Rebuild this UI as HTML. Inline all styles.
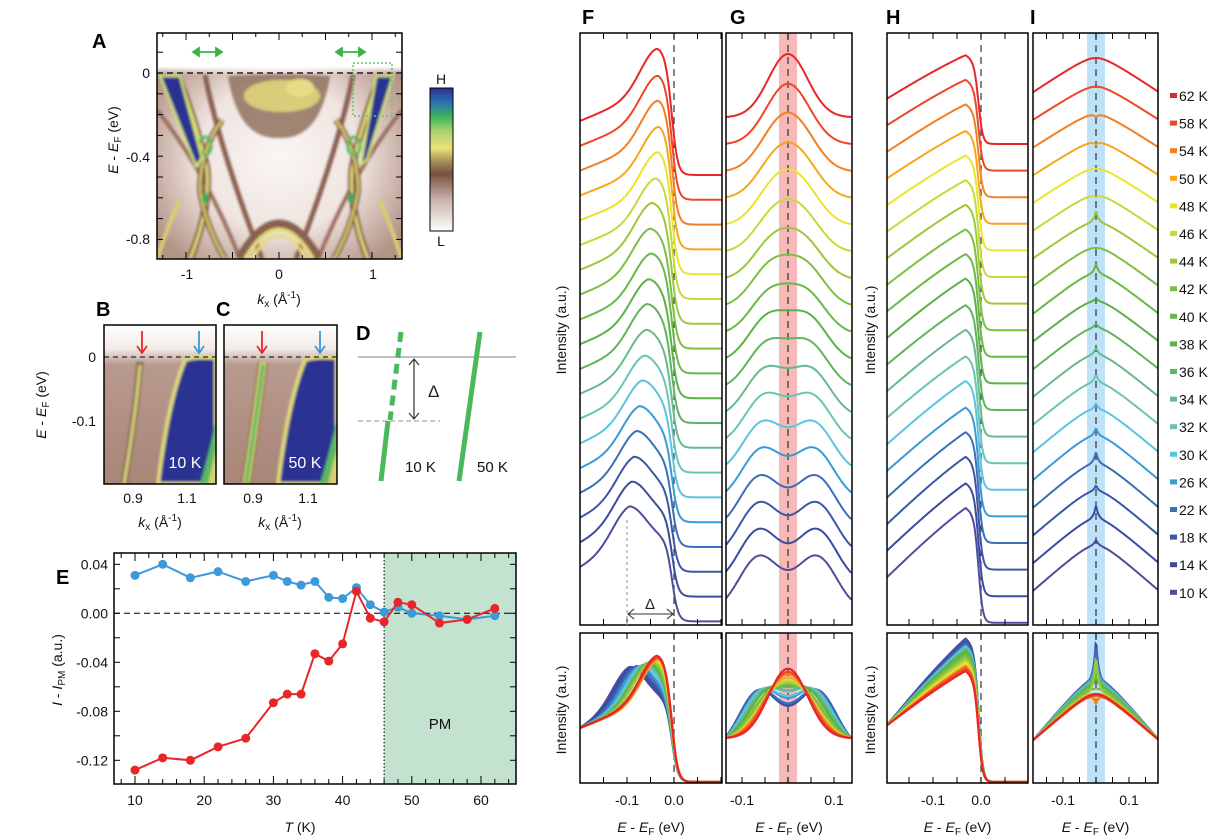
<!DOCTYPE html>
<html><head><meta charset="utf-8">
<style>
html,body{margin:0;padding:0;background:#fff;}
svg{display:block;font-family:"Liberation Sans",sans-serif;}
.tk{font-size:14px;fill:#111;}
.lbl{font-size:20px;font-weight:bold;fill:#000;}
.ax{font-size:14px;fill:#111;}
</style></head>
<body>
<svg id="fig" width="1226" height="840" viewBox="0 0 1226 840" xmlns="http://www.w3.org/2000/svg">
<defs>
  <clipPath id="clipA"><rect x="157" y="33" width="245" height="226"/></clipPath>
  <clipPath id="clipB"><rect x="104" y="325" width="112" height="159"/></clipPath>
  <clipPath id="clipC"><rect x="224" y="325" width="113" height="159"/></clipPath>
  <clipPath id="clipF"><rect x="580" y="33" width="142" height="592"/></clipPath>
  <clipPath id="clipG"><rect x="726" y="33" width="126" height="592"/></clipPath>
  <clipPath id="clipH"><rect x="887" y="33" width="141" height="592"/></clipPath>
  <clipPath id="clipI"><rect x="1033" y="33" width="125" height="592"/></clipPath>
  <clipPath id="clipFb"><rect x="580" y="633" width="142" height="150"/></clipPath>
  <clipPath id="clipGb"><rect x="726" y="633" width="126" height="150"/></clipPath>
  <clipPath id="clipHb"><rect x="887" y="633" width="141" height="150"/></clipPath>
  <clipPath id="clipIb"><rect x="1033" y="633" width="125" height="150"/></clipPath>
  <linearGradient id="cbar" x1="0" y1="0" x2="0" y2="1">
    <stop offset="0" stop-color="#2b3090"/><stop offset="0.1" stop-color="#2a6fb5"/>
    <stop offset="0.2" stop-color="#3cb45a"/><stop offset="0.3" stop-color="#a8d070"/>
    <stop offset="0.42" stop-color="#ece27a"/><stop offset="0.52" stop-color="#a08a55"/>
    <stop offset="0.6" stop-color="#7a5040"/><stop offset="0.78" stop-color="#c8b2aa"/>
    <stop offset="1" stop-color="#ffffff"/>
  </linearGradient>
  <radialGradient id="bgA" cx="0.5" cy="0.55" r="0.6">
    <stop offset="0" stop-color="#faf6f5"/><stop offset="0.55" stop-color="#efe4e0"/>
    <stop offset="1" stop-color="#b39386"/>
  </radialGradient>
  <linearGradient id="topfade" x1="0" y1="0" x2="0" y2="1">
    <stop offset="0" stop-color="#fff"/><stop offset="0.8" stop-color="#fff"/><stop offset="1" stop-color="#fff" stop-opacity="0"/>
  </linearGradient>
  <linearGradient id="bgB" x1="0" y1="0" x2="0" y2="1">
    <stop offset="0" stop-color="#fff"/><stop offset="0.15" stop-color="#f3ebe8"/><stop offset="0.25" stop-color="#b89a8e"/><stop offset="1" stop-color="#a88678"/>
  </linearGradient>
  <filter id="blur1"><feGaussianBlur stdDeviation="1.2"/></filter>
</defs>

<g>
  <text class="lbl" x="92" y="48">A</text>
  <g clip-path="url(#clipA)">
    <rect x="157" y="33" width="245" height="226" fill="url(#bgA)"/>
    <rect x="157" y="33" width="245" height="42" fill="url(#topfade)"/>
    <g filter="url(#blur1)">
      <path d="M205,75 Q220,150 262,259" stroke="#8a6050" stroke-width="5" fill="none"/>
      <path d="M353,75 Q338,150 296,259" stroke="#8a6050" stroke-width="5" fill="none"/>
      <path d="M157,110 Q205,170 240,259" stroke="#9a7060" stroke-width="4" fill="none"/>
      <path d="M402,110 Q354,170 318,259" stroke="#9a7060" stroke-width="4" fill="none"/>
      <path d="M228,76 Q278,72 330,76 Q320,140 279,138 Q238,140 228,76 Z" fill="#8c6a55" opacity="0.8"/>
      <ellipse cx="282" cy="96" rx="38" ry="16" fill="#d8cd78"/>
      <ellipse cx="300" cy="88" rx="14" ry="9" fill="#e6dc86"/>
      <path d="M240,259 Q279,190 318,259" stroke="#8a6050" stroke-width="10" fill="none"/>
      <path d="M245,259 Q279,200 313,259" stroke="#e4dc7c" stroke-width="4" fill="none"/>
      <path d="M252,259 Q279,212 306,259" stroke="#e4dc7c" stroke-width="3" fill="none"/>
      <path d="M178,76 Q200,135 207,170 Q210,210 190,259" stroke="#7a5040" stroke-width="7" fill="none"/>
      <path d="M178,76 Q200,135 207,170 Q210,210 190,259" stroke="#e2db78" stroke-width="3" fill="none"/>
      <path d="M222,120 Q200,150 200,190 Q205,225 225,259" stroke="#7a5040" stroke-width="6" fill="none"/>
      <path d="M222,120 Q200,150 200,190 Q205,225 225,259" stroke="#d6d070" stroke-width="2.5" fill="none"/>
      <path d="M380,76 Q358,135 352,170 Q349,210 368,259" stroke="#7a5040" stroke-width="7" fill="none"/>
      <path d="M380,76 Q358,135 352,170 Q349,210 368,259" stroke="#e2db78" stroke-width="3" fill="none"/>
      <path d="M336,120 Q358,150 358,190 Q353,225 334,259" stroke="#7a5040" stroke-width="6" fill="none"/>
      <path d="M336,120 Q358,150 358,190 Q353,225 334,259" stroke="#d6d070" stroke-width="2.5" fill="none"/>
      <ellipse cx="205" cy="146" rx="6" ry="9" fill="none" stroke="#58b860" stroke-width="3"/>
      <ellipse cx="354" cy="146" rx="6" ry="9" fill="none" stroke="#58b860" stroke-width="3"/>
      <ellipse cx="205" cy="198" rx="3" ry="6" fill="#40a860"/>
      <ellipse cx="351" cy="198" rx="3" ry="6" fill="#40a860"/>
      <path d="M157,259 Q170,220 180,200" stroke="#d8d070" stroke-width="4" fill="none"/>
      <path d="M402,259 Q389,220 379,200" stroke="#d8d070" stroke-width="4" fill="none"/>
      <path d="M160,76 L180,76 L202,158 L196,166 Z" fill="#2b3292" stroke="#cfe070" stroke-width="2.5"/>
      <path d="M376,76 L393,76 L367,160 L361,164 Z" fill="#2b3292" stroke="#cfe070" stroke-width="2.5"/>
    </g>
  </g>
  <rect x="157" y="33" width="245" height="226" fill="none" stroke="#000" stroke-width="1.5"/>
  <line x1="157" y1="73" x2="402" y2="73" stroke="#000" stroke-width="1.2" stroke-dasharray="6,4"/>
  <g id="ticksA"></g>
  <text class="tk" x="150" y="78" text-anchor="end">0</text>
  <text class="tk" x="150" y="162" text-anchor="end">-0.4</text>
  <text class="tk" x="150" y="244" text-anchor="end">-0.8</text>
  <text class="tk" x="187" y="279" text-anchor="middle">-1</text>
  <text class="tk" x="279" y="279" text-anchor="middle">0</text>
  <text class="tk" x="373" y="279" text-anchor="middle">1</text>
  <text class="ax" x="279" y="304" text-anchor="middle"><tspan font-style="italic">k</tspan><tspan font-size="10" dy="3">x</tspan><tspan dy="-3"> (Å</tspan><tspan font-size="10" dy="-6">-1</tspan><tspan dy="6">)</tspan></text>
  <text class="ax" transform="translate(118,140) rotate(-90)" text-anchor="middle"><tspan font-style="italic">E</tspan> - <tspan font-style="italic">E</tspan><tspan font-size="10" dy="3">F</tspan><tspan dy="-3"> (eV)</tspan></text>
  <g stroke="#3bb24a" stroke-width="1.8" fill="#3bb24a">
    <line x1="197" y1="52" x2="218" y2="52"/><path d="M193,52 l6,-4 v8 z"/><path d="M222,52 l-6,-4 v8 z"/>
    <line x1="340" y1="52" x2="361" y2="52"/><path d="M336,52 l6,-4 v8 z"/><path d="M365,52 l-6,-4 v8 z"/>
  </g>
  <rect x="353" y="63" width="39" height="53" fill="none" stroke="#6cc070" stroke-width="1.5" stroke-dasharray="2,2"/>
  <rect x="430" y="88" width="23" height="143" fill="url(#cbar)" stroke="#000" stroke-width="1"/>
  <text class="tk" x="441" y="84" text-anchor="middle" font-size="15">H</text>
  <text class="tk" x="441" y="246" text-anchor="middle" font-size="15">L</text>
</g>

<g>
  <text class="lbl" x="96" y="316">B</text>
  <g clip-path="url(#clipB)">
    <rect x="104" y="325" width="112" height="159" fill="url(#bgB)"/>
    <g filter="url(#blur1)">
      <path d="M140,362 Q135,420 124,484" stroke="#8a6a50" stroke-width="7" fill="none"/>
      <path d="M140,365 Q135,420 124,484" stroke="#d6d67a" stroke-width="3" fill="none"/>
      <path d="M185,360 Q195,356 216,358 L216,484 L158,484 Q168,400 185,360 Z" fill="#2b3292" stroke="#e0da78" stroke-width="4"/>
      <path d="M200,484 Q210,450 216,420 L216,484 Z" fill="#5ab860"/>
      <path d="M208,484 Q213,462 216,450 L216,484 Z" fill="#d8d070"/>
    </g>
  </g>
  <rect x="104" y="325" width="112" height="159" fill="none" stroke="#000" stroke-width="1.5"/>
  <line x1="104" y1="357" x2="216" y2="357" stroke="#000" stroke-dasharray="5,4"/>
  <text x="185" y="468" fill="#fff" font-size="16" text-anchor="middle">10 K</text>
  <g stroke="#e8262a" stroke-width="1.8" fill="none"><line x1="142" y1="331" x2="142" y2="352"/><path d="M137,346 L142,353 L147,346"/></g>
  <g stroke="#3a9ad6" stroke-width="1.8" fill="none"><line x1="199" y1="331" x2="199" y2="352"/><path d="M194,346 L199,353 L204,346"/></g>
  <text class="tk" x="96" y="362" text-anchor="end">0</text>
  <text class="tk" x="96" y="426" text-anchor="end">-0.1</text>
  <text class="tk" x="133" y="503" text-anchor="middle">0.9</text>
  <text class="tk" x="187" y="503" text-anchor="middle">1.1</text>
  <text class="ax" x="160" y="527" text-anchor="middle"><tspan font-style="italic">k</tspan><tspan font-size="10" dy="3">x</tspan><tspan dy="-3"> (Å</tspan><tspan font-size="10" dy="-6">-1</tspan><tspan dy="6">)</tspan></text>
  <text class="ax" transform="translate(46,405) rotate(-90)" text-anchor="middle"><tspan font-style="italic">E</tspan> - <tspan font-style="italic">E</tspan><tspan font-size="10" dy="3">F</tspan><tspan dy="-3"> (eV)</tspan></text>
</g>
<g>
  <text class="lbl" x="216" y="316">C</text>
  <g clip-path="url(#clipC)">
    <rect x="224" y="325" width="113" height="159" fill="url(#bgB)"/>
    <g filter="url(#blur1)">
      <path d="M263,362 Q256,420 246,484" stroke="#8a6a50" stroke-width="10" fill="none"/>
      <path d="M263,362 Q256,420 246,484" stroke="#d8d674" stroke-width="7" fill="none"/>
      <path d="M263,364 Q256,420 246,484" stroke="#58b860" stroke-width="3.5" fill="none"/>
      <path d="M305,360 Q315,356 337,358 L337,484 L278,484 Q288,400 305,360 Z" fill="#2b3292" stroke="#e0da78" stroke-width="4"/>
      <path d="M320,484 Q330,450 337,420 L337,484 Z" fill="#5ab860"/>
      <path d="M328,484 Q333,462 337,450 L337,484 Z" fill="#d8d070"/>
    </g>
  </g>
  <rect x="224" y="325" width="113" height="159" fill="none" stroke="#000" stroke-width="1.5"/>
  <line x1="224" y1="357" x2="337" y2="357" stroke="#000" stroke-dasharray="5,4"/>
  <text x="305" y="468" fill="#fff" font-size="16" text-anchor="middle">50 K</text>
  <g stroke="#e8262a" stroke-width="1.8" fill="none"><line x1="262" y1="331" x2="262" y2="352"/><path d="M257,346 L262,353 L267,346"/></g>
  <g stroke="#3a9ad6" stroke-width="1.8" fill="none"><line x1="320" y1="331" x2="320" y2="352"/><path d="M315,346 L320,353 L325,346"/></g>
  <text class="tk" x="253" y="503" text-anchor="middle">0.9</text>
  <text class="tk" x="308" y="503" text-anchor="middle">1.1</text>
  <text class="ax" x="280" y="527" text-anchor="middle"><tspan font-style="italic">k</tspan><tspan font-size="10" dy="3">x</tspan><tspan dy="-3"> (Å</tspan><tspan font-size="10" dy="-6">-1</tspan><tspan dy="6">)</tspan></text>
</g>

<g>
  <text class="lbl" x="356" y="340">D</text>
  <line x1="358" y1="357" x2="516" y2="357" stroke="#999" stroke-width="1.2"/>
  <line x1="358" y1="421" x2="440" y2="421" stroke="#aaa" stroke-width="1.2" stroke-dasharray="5,3"/>
  <g stroke="#333" stroke-width="1.2" fill="none"><line x1="414" y1="359" x2="414" y2="419"/><path d="M409,365 L414,359 L419,365"/><path d="M409,413 L414,419 L419,413"/></g>
  <text x="428" y="397" font-size="17" fill="#222">Δ</text>
  <line x1="401" y1="332" x2="390" y2="420" stroke="#4cb85c" stroke-width="5" stroke-dasharray="10,6"/>
  <line x1="388" y1="421" x2="381" y2="481" stroke="#4cb85c" stroke-width="5"/>
  <line x1="480" y1="332" x2="459" y2="481" stroke="#4cb85c" stroke-width="5"/>
  <text x="405" y="472" font-size="15" fill="#111">10 K</text>
  <text x="477" y="472" font-size="15" fill="#111">50 K</text>
</g>

<g>
  <text class="lbl" x="56" y="584">E</text>
  <rect id="pmRegion" x="384" y="553" width="132" height="231" fill="#c3e3d0"/>
  <g id="eTicks"></g>
  <g id="eLabels"></g>
  <line id="zeroLineE" x1="114" x2="516" y1="613" y2="613" stroke="#000" stroke-width="1" stroke-dasharray="6,4"/>
  <line id="tnLine" x1="384" x2="384" y1="553" y2="784" stroke="#333" stroke-width="1.3" stroke-dasharray="1.5,2"/>
  <g id="eSeries"></g>
  <rect x="114" y="553" width="402" height="231" fill="none" stroke="#000" stroke-width="1.5"/>
  <text x="440" y="729" font-size="15" fill="#111" text-anchor="middle">PM</text>
  <text class="ax" x="300" y="832" text-anchor="middle"><tspan font-style="italic">T</tspan> (K)</text>
  <text class="ax" transform="translate(62,670) rotate(-90)" text-anchor="middle"><tspan font-style="italic">I</tspan> - <tspan font-style="italic">I</tspan><tspan font-size="10" dy="3">PM</tspan><tspan dy="-3"> (a.u.)</tspan></text>
</g>

<g id="edcs"></g>
<text class="lbl" x="582" y="24">F</text>
<text class="lbl" x="730" y="24">G</text>
<text class="lbl" x="886" y="24">H</text>
<text class="lbl" x="1030" y="24">I</text>
<text class="ax" transform="translate(566,330) rotate(-90)" text-anchor="middle">Intensity (a.u.)</text>
<text class="ax" transform="translate(875,330) rotate(-90)" text-anchor="middle">Intensity (a.u.)</text>
<text class="ax" transform="translate(566,710) rotate(-90)" text-anchor="middle">Intensity (a.u.)</text>
<text class="ax" transform="translate(875,710) rotate(-90)" text-anchor="middle">Intensity (a.u.)</text>
<g id="legend"></g>
</svg>

<script>
// ---------- Panel E data ----------
const eTemps = [10,14,18,22,26,30,32,34,36,38,40,42,44,46,48,50,54,58,62];
const eBlue = [0.031,0.040,0.029,0.034,0.026,0.031,0.026,0.023,0.026,0.013,0.012,0.021,0.007,0.001,0.005,0.000,-0.002,-0.005,-0.002];
const eRed  = [-0.128,-0.118,-0.120,-0.109,-0.102,-0.073,-0.066,-0.066,-0.033,-0.039,-0.025,0.018,-0.004,-0.007,0.009,0.007,-0.008,-0.005,0.004];
const eXTicks = [10,20,30,40,50,60];
const eYTicks = [0.04,0.00,-0.04,-0.08,-0.12];
const eYTickLabels = ["0.04","0.00","-0.04","-0.08","-0.12"];
const eTn = 46;

// ---------- EDC data (temperature order top to bottom) ----------
const temps = [62,58,54,50,48,46,44,42,40,38,36,34,32,30,26,22,18,14,10];
const fPeakE = [-0.036,-0.035,-0.034,-0.032,-0.035,-0.040,-0.048,-0.052,-0.050,-0.055,-0.058,-0.060,-0.064,-0.068,-0.074,-0.080,-0.085,-0.090,-0.095];
const fPeakH = [74,72,72,71,70,68,68,67,67,66,66,65,64,64,63,63,62,62,62];
const gGapE = [0.000,0.018,0.025,0.028,0.030,0.032,0.036,0.040,0.042,0.046,0.048,0.052,0.054,0.058,0.060,0.064,0.065,0.066,0.066];
const gPeakH = [63,60,58,55,55,52,50,50,48,48,47,46,46,45,45,44,44,44,44];
const hRise = [44,46,48,48,50,52,54,56,58,60,60,62,62,64,64,66,68,68,70];
const iBroad = [34,33,33,33,34,35,36,38,40,40,41,42,42,43,44,44,44,44,45];
const iSpike = [0,0,-3,-3,0,-2,12,0,10,3,5,7,8,6,8,12,6,14,6];

const palette = ["#e8262a","#ee4626","#f27f22","#f6a81d","#ece32c","#c6d93a","#9cc83b","#7dbf42","#6ab845","#5cb247","#5fb55e","#66bb8c","#6ac4b6","#5ac4e0","#3a9ad6","#3b6fb8","#3a57a8","#3b4ba0","#4d4da0"];

const NS = "http://www.w3.org/2000/svg";
function mk(tag, attrs){const e=document.createElementNS(NS,tag);for(const k in attrs)e.setAttribute(k,attrs[k]);return e;}

(function(){
  const g=document.getElementById('ticksA');
  const kx=k=>279+k*93, ey=e=>73-e*208;
  for(let k=-1.25;k<=1.26;k+=0.25){const x=kx(k);const big=Math.abs(k*2-Math.round(k*2))<1e-6;
    g.appendChild(mk('line',{x1:x,y1:259,x2:x,y2:259-(big?7:4),stroke:'#000'}));
    g.appendChild(mk('line',{x1:x,y1:33,x2:x,y2:33+(big?7:4),stroke:'#000'}));}
  for(let e=0.2;e>=-0.85;e-=0.1){const y=ey(e);if(y<33||y>259)continue;
    g.appendChild(mk('line',{x1:157,y1:y,x2:163,y2:y,stroke:'#000'}));
    g.appendChild(mk('line',{x1:402,y1:y,x2:396,y2:y,stroke:'#000'}));}
  const gb=[[104,216,133,187],[224,337,253,308]];
  gb.forEach(b=>{for(let k=0.8;k<=1.21;k+=0.05){const x=b[2]+(k-0.9)*(b[3]-b[2])/0.2;if(x<b[0]||x>b[1])continue;
    const big=Math.abs(k*10-Math.round(k*10))<1e-6;
    g.appendChild(mk('line',{x1:x,y1:484,x2:x,y2:484-(big?6:3),stroke:'#000'}));
    g.appendChild(mk('line',{x1:x,y1:325,x2:x,y2:325+(big?6:3),stroke:'#000'}));}
    for(let e=0.04;e>=-0.2;e-=0.025){const y=357-e*640;if(y<325||y>484)continue;
    g.appendChild(mk('line',{x1:b[0],y1:y,x2:b[0]+5,y2:y,stroke:'#000'}));
    g.appendChild(mk('line',{x1:b[1],y1:y,x2:b[1]-5,y2:y,stroke:'#000'}));}});
})();

const xE = t => 135 + (t-10)*6.92;
const yE = v => 613.3 - v*1225;
(function(){
  const pm=document.getElementById('pmRegion');
  pm.setAttribute('x', xE(eTn)); pm.setAttribute('width', 516 - xE(eTn));
  const tl=document.getElementById('tnLine'); tl.setAttribute('x1',xE(eTn)); tl.setAttribute('x2',xE(eTn));
  const zl=document.getElementById('zeroLineE'); zl.setAttribute('y1',yE(0)); zl.setAttribute('y2',yE(0));
  const tg=document.getElementById('eTicks'), lg=document.getElementById('eLabels');
  for(let t=2;t<=64;t+=2){const x=xE(t);if(x<114||x>516)continue;const big=t%10===0;
    tg.appendChild(mk('line',{x1:x,y1:784,x2:x,y2:784-(big?8:5),stroke:'#000'}));
    tg.appendChild(mk('line',{x1:x,y1:553,x2:x,y2:553+(big?8:5),stroke:'#000'}));}
  for(let v=0.04;v>=-0.14;v-=0.02){const y=yE(v);if(y<553||y>784)continue;
    tg.appendChild(mk('line',{x1:114,y1:y,x2:120,y2:y,stroke:'#000'}));
    tg.appendChild(mk('line',{x1:516,y1:y,x2:510,y2:y,stroke:'#000'}));}
  eXTicks.forEach(t=>{const tx=mk('text',{x:xE(t),y:805,'text-anchor':'middle',class:'tk'});tx.textContent=t;
    
    
    lg.appendChild(tx);});
  eYTicks.forEach((v,i)=>{const tx=mk('text',{x:108,y:yE(v)+5,'text-anchor':'end',class:'tk'});tx.textContent=eYTickLabels[i];
    
    
    lg.appendChild(tx);});
  const sg=document.getElementById('eSeries');
  [[eBlue,'#3d9ad8','blue'],[eRed,'#e8262a','red']].forEach(s=>{
    const pts=eTemps.map((t,i)=>xE(t).toFixed(1)+','+yE(s[0][i]).toFixed(1)).join(' ');
    const pl=mk('polyline',{points:pts,fill:'none',stroke:s[1],'stroke-width':2});
    
    
    sg.appendChild(pl);
    eTemps.forEach((t,i)=>{const c=mk('circle',{cx:xE(t),cy:yE(s[0][i]),r:4.5,fill:s[1]});
      
      
      sg.appendChild(c);});
  });
})();

const gauss=(x,s)=>Math.exp(-x*x/(2*s*s));
const fermi=(E,E0,w)=>1/(1+Math.exp((E-E0)/w));
function vF(E,i){const El=-0.205,p=fPeakE[i],s=0.036,L=53,H=fPeakH[i];
  const lin=E<p?(E-El)/(p-El):1;
  const S=0.45*lin+0.55*(gauss(E-p,s)-gauss(El-p,s))/(1-gauss(El-p,s));
  return (L+H*S)*fermi(E,-0.004,0.0065);}
function vG(E,i){const Ep=gGapE[i],s=0.042,El=-0.137;
  const S=e=>gauss(e-Ep,s)+gauss(e+Ep,s)+0.25*gauss(e,0.05);let mx=0;for(let e=-0.14;e<=0.14;e+=0.002)mx=Math.max(mx,S(e));
  return gPeakH[i]*(S(E)-S(El))/(mx-S(El));}
function vH(E,i){const El=-0.197,p=-0.032,L=45,R=hRise[i];
  let r;if(E<p){const u=(E-El)/(p-El);r=L+R*(0.85*u+0.15*Math.sin(u*Math.PI/2));}else r=L+R-(E-p)*300;
  return r*fermi(E,-0.005,0.0045);}
function vI(E,i){const a=0.04,M=0.19;
  const T=(Math.sqrt(a*a+M*M)-Math.sqrt(a*a+E*E))/(Math.sqrt(a*a+M*M)-a);
  return iBroad[i]*T+iSpike[i]*Math.exp(-Math.abs(E)/0.007);}

const panels=[
 {n:'f',x0:580,x1:722,xc:674,sc:470,fn:vF,base:i=>175+i*24.8,bb:782,bs:1,ticks:[-0.15,-0.1,-0.05,0,0.05,0.1],lab:[[-0.1,'-0.1'],[0,'0.0']],clip:'clipF',clipb:'clipFb'},
 {n:'g',x0:726,x1:852,xc:788,sc:460,fn:vG,base:i=>117+i*26.8,bb:738,bs:1.1,ticks:[-0.1,-0.05,0,0.05,0.1],lab:[[-0.1,'-0.1'],[0.1,'0.1']],band:'#f4a0a0',clip:'clipG',clipb:'clipGb'},
 {n:'h',x0:887,x1:1028,xc:981,sc:480,fn:vH,base:i=>144+i*26.6,bb:782,bs:1.25,ticks:[-0.15,-0.1,-0.05,0,0.05],lab:[[-0.1,'-0.1'],[0,'0.0']],clip:'clipH',clipb:'clipHb'},
 {n:'i',x0:1033,x1:1158,xc:1096,sc:330,fn:vI,base:i=>92+i*27.7,bb:740,bs:1.35,spk:2.2,ticks:[-0.15,-0.1,-0.05,0,0.05,0.1,0.15],lab:[[-0.1,'-0.1'],[0.1,'0.1']],band:'#a8d8f4',clip:'clipI',clipb:'clipIb'}
];
(function(){
  const root=document.getElementById('edcs');
  panels.forEach(P=>{
    const g=mk('g',{});
    
    
    root.appendChild(g);
    const X=E=>P.xc+E*P.sc;
    [[33,625,'top'],[633,783,'bottom']].forEach(([y0,y1,pos])=>{
      if(P.band){const b=mk('rect',{x:P.xc-9,y:y0,width:18,height:y1-y0,fill:P.band,opacity:0.75});
        
        
        g.appendChild(b);}
      const dl=mk('line',{x1:P.xc,x2:P.xc,y1:y0,y2:y1,stroke:'#333','stroke-width':1.2,'stroke-dasharray':'7,5'});
      
      
      g.appendChild(dl);
    });
    const Emin=(P.x0-P.xc)/P.sc, Emax=(P.x1-P.xc)/P.sc;
    const cg=mk('g',{'clip-path':'url(#'+P.clip+')'}); g.appendChild(cg);
    const bg=mk('g',{'clip-path':'url(#'+P.clipb+')'}); g.appendChild(bg);
    temps.forEach((t,i)=>{
      let d='';for(let E=Emin;E<=Emax+1e-9;E+=0.002){d+=(d?'L':'M')+X(E).toFixed(1)+','+(P.base(i)-P.fn(E,i)).toFixed(1);}
      const p=mk('path',{d:d,fill:'none',stroke:palette[i],'stroke-width':2});
      
      
      cg.appendChild(p);
    });
    for(let i=temps.length-1;i>=0;i--){
      let d='';for(let E=Emin;E<=Emax+1e-9;E+=0.002){let v=P.fn(E,i)*P.bs;
        if(P.spk)v+=iSpike[i]*(P.spk-1)*P.bs*Math.exp(-Math.abs(E)/0.007);
        d+=(d?'L':'M')+X(E).toFixed(1)+','+(P.bb-v).toFixed(1);}
      const p=mk('path',{d:d,fill:'none',stroke:palette[i],'stroke-width':2.2});
      
      
      bg.appendChild(p);
    }
    [[33,625],[633,783]].forEach(([y0,y1])=>{
      g.appendChild(mk('rect',{x:P.x0,y:y0,width:P.x1-P.x0,height:y1-y0,fill:'none',stroke:'#000','stroke-width':1.5}));
      P.ticks.forEach(E=>{const x=X(E);
        g.appendChild(mk('line',{x1:x,x2:x,y1:y0,y2:y0+6,stroke:'#000'}));
        g.appendChild(mk('line',{x1:x,x2:x,y1:y1,y2:y1-6,stroke:'#000'}));});
    });
    P.lab.forEach(([E,s])=>{const tx=mk('text',{x:X(E),y:805,'text-anchor':'middle',class:'tk'});tx.textContent=s;
      
      
      g.appendChild(tx);});
    const tt=mk('text',{x:(P.x0+P.x1)/2,y:832,'text-anchor':'middle',class:'ax'});
    tt.innerHTML='<tspan font-style="italic">E</tspan> - <tspan font-style="italic">E</tspan><tspan font-size="10" dy="3">F</tspan><tspan dy="-3"> (eV)</tspan>';
    
    
    g.appendChild(tt);
  });
  const a=mk('g',{stroke:'#333','stroke-width':1.1,fill:'none'});
  
  
  a.appendChild(mk('line',{x1:627,x2:627,y1:520,y2:625,'stroke-dasharray':'3,3',stroke:'#999'}));
  a.appendChild(mk('line',{x1:628,x2:673,y1:614,y2:614}));
  a.appendChild(mk('path',{d:'M634,609 L628,614 L634,619 M667,609 L673,614 L667,619'}));
  root.appendChild(a);
  const dt=mk('text',{x:650,y:609,'text-anchor':'middle','font-size':15,fill:'#222'});dt.textContent='Δ';
  
  
  root.appendChild(dt);
  const lg=document.getElementById('legend');
  temps.forEach((t,i)=>{const y=96+i*27.6;
    const r=mk('rect',{x:1170,y:y-3,width:7,height:5,fill:palette[i]});
    
    
    lg.appendChild(r);
    const tx=mk('text',{x:1179,y:y+5,'font-size':14,fill:'#111'});tx.textContent=t+' K';
    
    
    lg.appendChild(tx);});
})();
</script>
</body></html>
